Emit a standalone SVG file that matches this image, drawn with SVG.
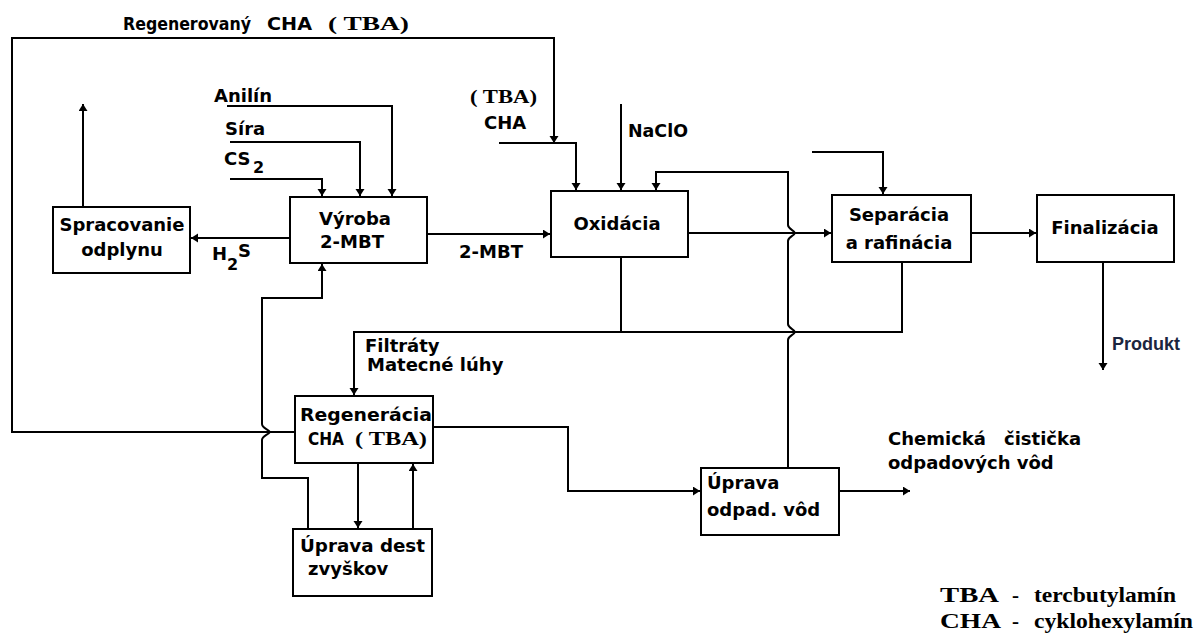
<svg xmlns="http://www.w3.org/2000/svg" width="1195" height="637" viewBox="0 0 1195 637">
<defs>
<marker id="ah" markerUnits="userSpaceOnUse" markerWidth="9" markerHeight="10" refX="7" refY="4.5" orient="auto">
<path d="M0,0 L7,4.5 L0,9 z" fill="#000"/>
</marker>
<style>
.box{fill:#fff;stroke:#000;stroke-width:2}
.ln{fill:none;stroke:#000;stroke-width:2}
.ar{fill:none;stroke:#000;stroke-width:2;marker-end:url(#ah)}
.t{font-family:"DejaVu Sans","Liberation Sans",sans-serif;font-weight:bold;font-size:18px;fill:#000}
.ts{font-family:"DejaVu Sans","Liberation Sans",sans-serif;font-weight:bold;font-size:16px;fill:#000}
.s{font-family:"Liberation Serif","DejaVu Serif",serif;font-weight:bold;font-size:19px;fill:#000}
.lg{font-family:"Liberation Serif","DejaVu Serif",serif;font-weight:bold;font-size:21px;fill:#000}
.c{text-anchor:middle}
</style>
</defs>
<rect width="1195" height="637" fill="#fff"/>

<g id="connectors">
<path class="ar" d="M295,432 H12 V38 H554 V143"/>
<path class="ar" d="M499,143 H576 V190"/>
<path class="ar" d="M621,104 V190"/>
<path class="ar" d="M788,468 V340 C788,336 794,335 795,332 C794,329 788,328 788,324 V241 C788,237 794,236 795,233 C794,230 788,229 788,225 V172 H656 V190"/>
<path class="ar" d="M427,234 H550"/>
<path class="ar" d="M290,238 H191"/>
<path class="ar" d="M83,207 V104"/>
<path class="ar" d="M227,106 H392 V196"/>
<path class="ar" d="M230,142 H360 V196"/>
<path class="ar" d="M230,179 H322 V196"/>
<path class="ar" d="M688,233 H831"/>
<path class="ar" d="M971,233 H1036"/>
<path class="ar" d="M812,152 H883 V194"/>
<path class="ar" d="M1103,262 V370"/>
<path class="ln" d="M621,257 V332"/>
<path class="ar" d="M902,262 V332 H354 V395"/>
<path class="ar" d="M433,427 H568 V491 H700"/>
<path class="ar" d="M839,491 H910"/>
<path class="ar" d="M358,463 V528"/>
<path class="ar" d="M413,529 V464"/>
<path class="ar" d="M308,529 V478 H262 V440 C262,436 268,435 270,432 C268,429 262,428 262,424 V298 H322 V264"/>
</g>

<g id="spracovanie">
<rect class="box" x="53" y="207" width="137" height="66"/>
<text class="t c" x="122" y="231">Spracovanie</text>
<text class="t c" x="122" y="256">odplynu</text>
</g>
<g id="vyroba">
<rect class="box" x="290" y="197" width="137" height="66"/>
<text class="t c" x="355" y="225">Výroba</text>
<text class="t c" x="352" y="248">2-MBT</text>
</g>
<g id="oxidacia">
<rect class="box" x="551" y="191" width="137" height="66"/>
<text class="t c" x="617" y="230">Oxidácia</text>
</g>
<g id="separacia">
<rect class="box" x="832" y="195" width="139" height="67"/>
<text class="t c" x="899" y="221">Separácia</text>
<text class="t c" x="899" y="249">a rafinácia</text>
</g>
<g id="finalizacia">
<rect class="box" x="1037" y="195" width="137" height="67"/>
<text class="t c" x="1105" y="234">Finalizácia</text>
</g>
<g id="regeneracia">
<rect class="box" x="295" y="396" width="138" height="67"/>
<text class="t" x="300" y="421" textLength="132" lengthAdjust="spacingAndGlyphs">Regenerácia</text>
<text class="t" x="308" y="445" textLength="36" lengthAdjust="spacingAndGlyphs">CHA</text>
<text class="s" x="355" y="445" textLength="72" lengthAdjust="spacingAndGlyphs">( TBA)</text>
</g>
<g id="uprava-dest">
<rect class="box" x="293" y="529" width="139" height="67"/>
<text class="t" x="300" y="552" textLength="125" lengthAdjust="spacingAndGlyphs">Úprava dest</text>
<text class="t" x="308" y="575">zvyškov</text>
</g>
<g id="uprava-odpad">
<rect class="box" x="701" y="468" width="138" height="67"/>
<text class="t" x="707" y="489">Úprava</text>
<text class="t" x="707" y="516">odpad. vôd</text>
</g>

<g id="labels">
<text class="t" x="123" y="30" textLength="128" lengthAdjust="spacingAndGlyphs">Regenerovaný</text>
<text class="t" x="267" y="30" textLength="45" lengthAdjust="spacingAndGlyphs">CHA</text>
<text class="s" x="328" y="30" textLength="81" lengthAdjust="spacingAndGlyphs">( TBA)</text>
<text class="t" x="214" y="102">Anilín</text>
<text class="t" x="225" y="135">Síra</text>
<text class="t" x="224" y="165">CS</text>
<text class="ts" x="253" y="173">2</text>
<text class="t" x="212" y="260">H</text>
<text class="ts" x="227" y="270">2</text>
<text class="t" x="238" y="257">S</text>
<text class="t" x="459" y="258">2-MBT</text>
<text class="s" x="470" y="103" textLength="67" lengthAdjust="spacingAndGlyphs">( TBA)</text>
<text class="t" x="484" y="129">CHA</text>
<text class="t" x="628" y="137" textLength="60" lengthAdjust="spacingAndGlyphs">NaClO</text>
<text class="t" x="365" y="352">Filtráty</text>
<text class="t" x="367" y="371">Matecné lúhy</text>
<text x="1112" y="350" textLength="68" lengthAdjust="spacingAndGlyphs" style="font-family:'Liberation Sans',Arial,sans-serif;font-weight:bold;font-size:18px;fill:#1b2540">Produkt</text>
<text class="t" x="888" y="445">Chemická</text>
<text class="t" x="1004" y="445">čistička</text>
<text class="t" x="888" y="469">odpadových  vôd</text>
<text class="lg" x="940" y="602" textLength="59" lengthAdjust="spacingAndGlyphs">TBA</text>
<text class="lg" x="1012" y="602">-</text>
<text class="lg" x="1034" y="602" textLength="142" lengthAdjust="spacingAndGlyphs">tercbutylamín</text>
<text class="lg" x="940" y="628" textLength="61" lengthAdjust="spacingAndGlyphs">CHA</text>
<text class="lg" x="1012" y="628">-</text>
<text class="lg" x="1034" y="628" textLength="159" lengthAdjust="spacingAndGlyphs">cyklohexylamín</text>
</g>
</svg>
